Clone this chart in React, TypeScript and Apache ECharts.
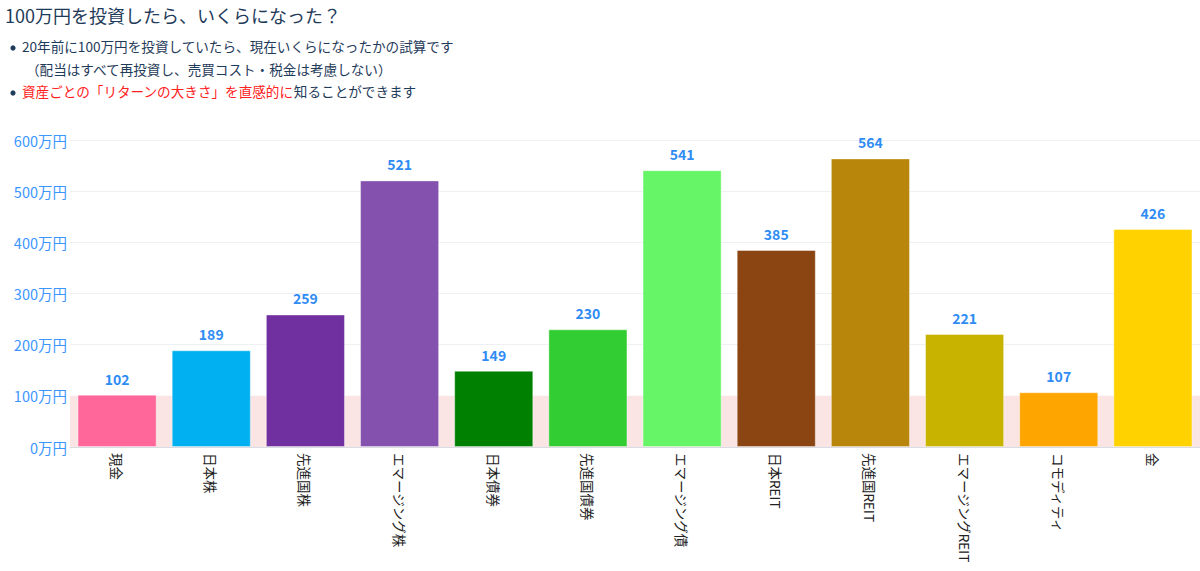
import { useEffect, useRef } from "react";
import * as echarts from "echarts";

const categories = [
  "現金",
  "日本株",
  "先進国株",
  "エマージング株",
  "日本債券",
  "先進国債券",
  "エマージング債",
  "日本REIT",
  "先進国REIT",
  "エマージングREIT",
  "コモディティ",
  "金",
];
const values = [102, 189, 259, 521, 149, 230, 541, 385, 564, 221, 107, 426];
const colors = [
  "#ff6699",
  "#00b0f0",
  "#7030a0",
  "#8452ae",
  "#008000",
  "#32cd32",
  "#66f566",
  "#8b4513",
  "#b8860b",
  "#c8b400",
  "#ffa500",
  "#ffd200",
];
const yTicks = [0, 100, 200, 300, 400, 500, 600];

const FONT = '"Noto Sans CJK JP", "Noto Sans", sans-serif';
const NAVY = "#1f3b5a";

function buildOption(): echarts.EChartsOption {
  return {
    animation: false,
    backgroundColor: "#fff",
    textStyle: { fontFamily: FONT },
    graphic: [
      {
        type: "text",
        left: 5,
        top: 6,
        style: { text: "100万円を投資したら、いくらになった？", fontSize: 18, fill: NAVY, fontFamily: FONT },
      },
      { type: "circle", shape: { cx: 13, cy: 48, r: 2.6 }, style: { fill: NAVY } },
      {
        type: "text",
        left: 22,
        top: 39,
        style: {
          text: "20年前に100万円を投資していたら、現在いくらになったかの試算です",
          fontSize: 13.6,
          fill: NAVY,
          fontFamily: FONT,
        },
      },
      {
        type: "text",
        left: 26,
        top: 62,
        style: {
          text: "（配当はすべて再投資し、売買コスト・税金は考慮しない）",
          fontSize: 13.6,
          fill: NAVY,
          fontFamily: FONT,
        },
      },
      { type: "circle", shape: { cx: 13, cy: 93, r: 2.6 }, style: { fill: NAVY } },
      {
        type: "text",
        left: 22,
        top: 84,
        style: {
          text: "{r|資産ごとの「リターンの大きさ」を直感的に}{n|知ることができます}",
          fontFamily: FONT,
          rich: {
            r: { fontSize: 13.6, fill: "#ff2020", fontFamily: FONT },
            n: { fontSize: 13.6, fill: NAVY, fontFamily: FONT },
          },
        },
      },
    ],
    grid: { left: 70, right: 0, top: 140, bottom: 124, containLabel: false },
    xAxis: {
      type: "category",
      data: categories,
      axisTick: { show: false },
      axisLine: { lineStyle: { color: "#d8dde3" } },
      axisLabel: {
        rotate: -90,
        interval: 0,
        margin: 6,
        color: "#222",
        fontSize: 13.5,
        fontFamily: FONT,
      },
    },
    yAxis: {
      type: "value",
      min: yTicks[0],
      max: yTicks[yTicks.length - 1],
      interval: 100,
      axisLabel: {
        formatter: (v: number) => `${v}万円`,
        color: "#3d96ff",
        fontSize: 14.5,
        margin: 3,
        fontFamily: FONT,
      },
      splitLine: { lineStyle: { color: "#eef0f3" } },
      axisLine: { show: false },
      axisTick: { show: false },
    },
    series: [
      {
        type: "bar",
        barCategoryGap: "16%",
        data: values.map((v, i) => ({
          value: v,
          itemStyle: { color: colors[i], borderColor: "rgba(255,255,255,0.4)", borderWidth: 1 },
        })),
        label: {
          show: true,
          position: "top",
          distance: 9,
          color: "#2f8cf5",
          fontWeight: "bold",
          fontSize: 14,
          fontFamily: FONT,
        },
        markArea: {
          silent: true,
          itemStyle: { color: "#fbe4e4" },
          data: [[{ yAxis: 0 }, { yAxis: 100 }]],
        },
        z: 2,
      },
    ],
  };
}

export default function App() {
  const chartRef = useRef<HTMLDivElement>(null);

  useEffect(() => {
    if (!chartRef.current) return;
    const chart = echarts.init(chartRef.current, undefined, { renderer: "svg" });
    chart.setOption(buildOption());
    return () => chart.dispose();
  }, []);

  return (
    <div
      ref={chartRef}
      style={{ position: "fixed", left: 0, top: 0, width: 1200, height: 571 }}
    />
  );
}
